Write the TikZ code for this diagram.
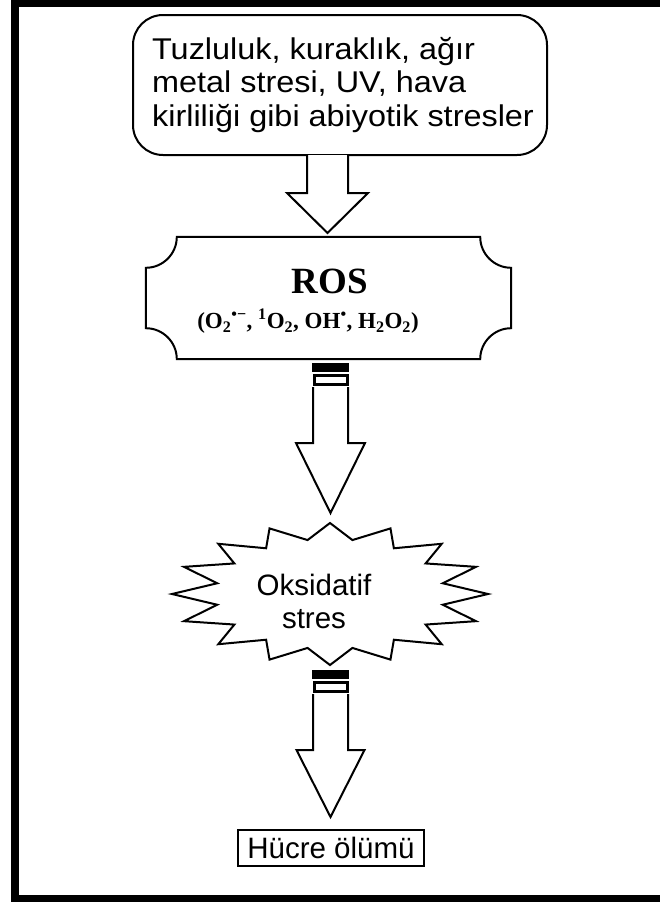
\documentclass[tikz,border=0pt]{standalone}
\usepackage{fontspec}
\setmainfont{Liberation Sans}
\newfontfamily\widefont[FakeStretch=1.08]{Liberation Sans}
\newfontfamily\rosfont{Liberation Serif}
\usetikzlibrary{calc}

\tikzset{
    outline/.style={line width=2pt, line join=miter},
    stressbox/.style={outline, draw, rounded corners=30pt, minimum width=414pt, minimum height=140pt,
        align=left, inner sep=0pt, font=\widefont\fontsize{30}{33.5}\selectfont},
    deathbox/.style={draw, line width=1.6pt, minimum width=186pt, minimum height=36pt, inner sep=0pt,
        font=\fontsize{29.5}{32}\selectfont},
    fatarrow/.style={outline, fill=white}
}

% block arrow: start, tip, shaft half width, head half width, head length
\newcommand\fatarrow[5]{%
    \draw[fatarrow] ($(#1)+(-#3,0)$) -- ($(#2)+(-#3,#5)$) -- ($(#2)+(-#4,#5)$) -- (#2)
        -- ($(#2)+(#4,#5)$) -- ($(#2)+(#3,#5)$) -- ($(#1)+(#3,0)$);
}
% the two bars above a block arrow
\newcommand\arrowbars[1]{%
    \fill ($(#1)+(-18.5,0)$) rectangle ($(#1)+(18.5,-9)$);
    \draw[line width=3pt] ($(#1)+(-16.5,-12.5)$) rectangle ($(#1)+(16.5,-21)$);
}

\begin{document}
\begin{tikzpicture}[x=1pt, y=1pt]
    \useasboundingbox (0,0) rectangle (659,-902);
    \draw[line width=7.5pt, line join=miter] (665,-3.5) -- (15,-3.5) -- (15,-898.5) -- (665,-898.5);

    \node[stressbox] (stress) at (340,-85) {\hspace*{6pt}Tuzluluk, kuraklık, ağır\\\hspace*{6pt}metal stresi, UV, hava\\\hspace*{6pt}kirliliği gibi abiyotik stresler};

    % ROS plate with cut corners
    \def\notch{31}
    \node[minimum width=365pt, minimum height=122pt, inner sep=0pt] (ros) at (328.5,-298) {};
    \draw[outline] ($(ros.north west)+(\notch,0)$) -- ($(ros.north east)+(-\notch,0)$)
        arc[start angle=180, end angle=270, radius=\notch] -- ($(ros.south east)+(0,\notch)$)
        arc[start angle=90, end angle=180, radius=\notch] -- ($(ros.south west)+(\notch,0)$)
        arc[start angle=0, end angle=90, radius=\notch] -- ($(ros.north west)+(0,-\notch)$)
        arc[start angle=270, end angle=360, radius=\notch] -- cycle;
    \node[font=\rosfont\bfseries\fontsize{37}{40}\selectfont] (rostitle) at (330,-281) {ROS};
    \node[font=\rosfont\bfseries\fontsize{23}{26}\selectfont] (rosformula) at (308,-321)
        {(O\textsubscript{2}\textsuperscript{•−}, \textsuperscript{1}O\textsubscript{2}, OH\textsuperscript{•}, H\textsubscript{2}O\textsubscript{2})};

    % oxidative stress burst
    \coordinate (burst) at (330,-594);
    \draw[outline] ($(burst)+(0,71)$) \foreach \k in {0,...,15} {
        -- ($(burst)+({115*cos(101.25+22.5*\k)},{55*sin(101.25+22.5*\k)})$)
        -- ($(burst)+({158*cos(112.5+22.5*\k)},{71*sin(112.5+22.5*\k)})$)
    } -- cycle;
    \node[align=center, font=\fontsize{29.5}{33}\selectfont] (ox) at (314,-601) {Oksidatif\\stres};

    \node[deathbox] (death) at (331,-848) {Hücre ölümü};

    % arrows
    \coordinate (a1s) at (327.5,-155);
    \coordinate (a1e) at (327.5,-233);
    \fatarrow{a1s}{a1e}{20.5}{40.5}{40}

    \coordinate (a2b) at (330.5,-363);
    \coordinate (a2s) at (330.5,-387);
    \coordinate (a2e) at (330.5,-513);
    \arrowbars{a2b}
    \fatarrow{a2s}{a2e}{17.5}{34.5}{70}

    \coordinate (a3b) at (330.5,-670);
    \coordinate (a3s) at (330.5,-694);
    \coordinate (a3e) at (330.5,-817);
    \arrowbars{a3b}
    \fatarrow{a3s}{a3e}{17.5}{34}{67}
\end{tikzpicture}
\end{document}
